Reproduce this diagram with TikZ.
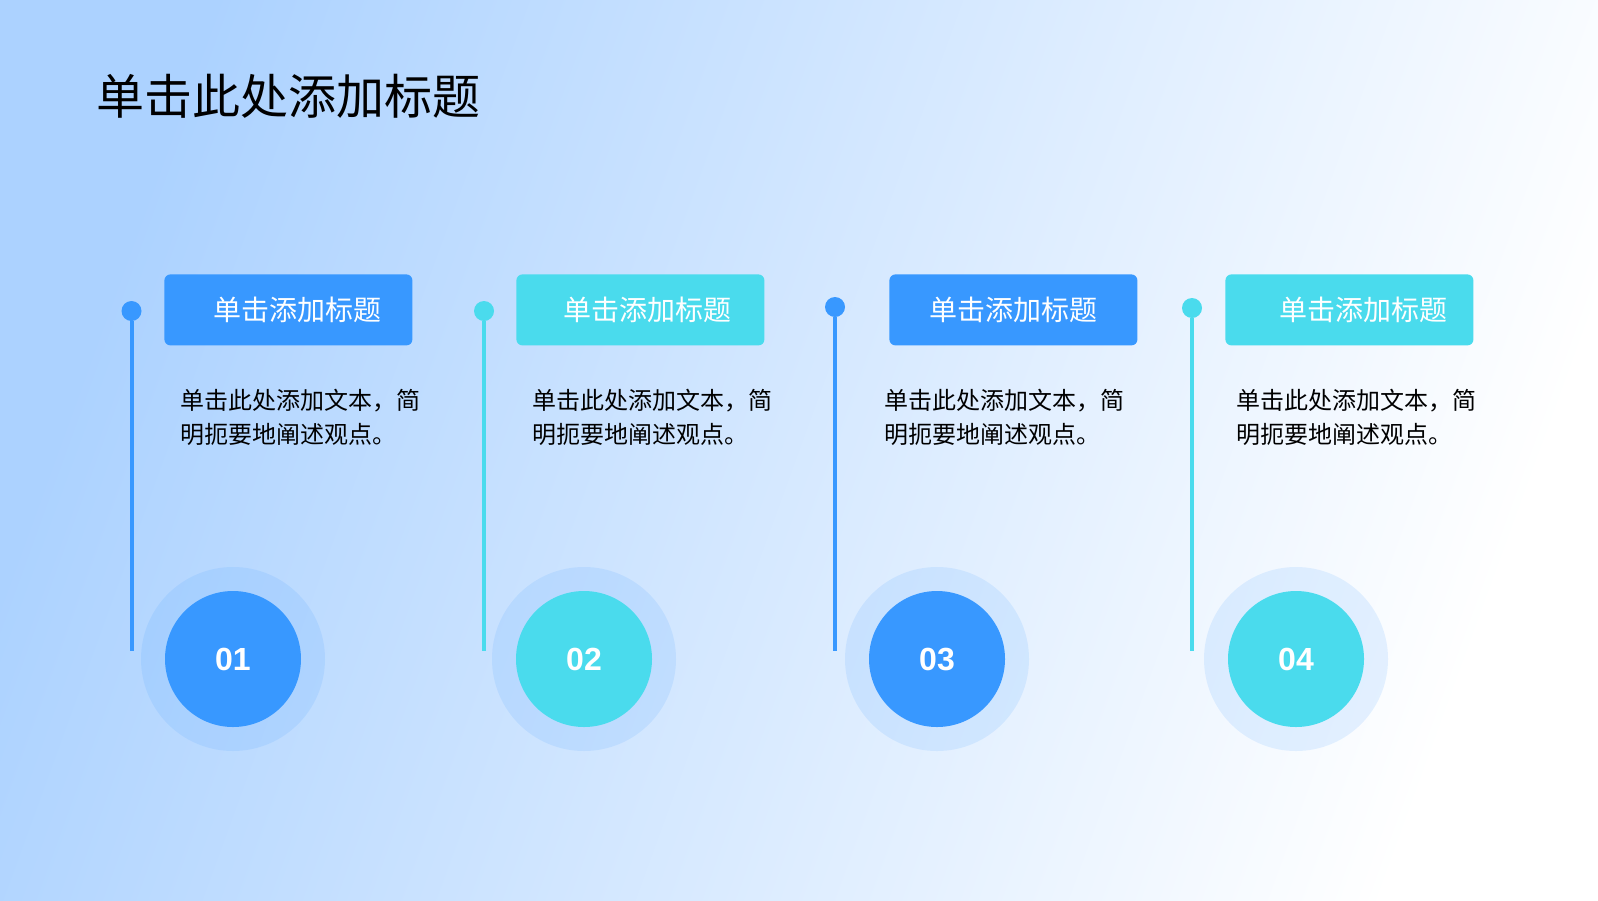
\documentclass[tikz,border=0pt]{standalone}
\usepackage{fontspec}
\usepackage{tikz}
\setmainfont{Noto Sans CJK SC}
\newfontfamily\zahlfont{Liberation Sans}
\definecolor{stepblue}{RGB}{56, 152, 255}
\definecolor{stepcyan}{RGB}{74, 219, 237}
\definecolor{bgtop}{RGB}{172, 210, 255}
\definecolor{bgbottom}{RGB}{255, 255, 255}

\begin{document}
\begin{tikzpicture}[x=0.5pt, y=-0.5pt]

	% --- HINTERGRUND ---
	\shade[left color=bgtop, right color=bgbottom, shading angle=70] (0,0) rectangle (1598,900);
	\useasboundingbox (0,0) rectangle (1598,900);

	% --- TITEL ---
	\node[anchor=west, inner sep=0pt, font=\fontsize{24}{28}\selectfont, color=black] (titel) at (96,96) {单击此处添加标题};

	% --- HILFSFUNKTION FÜR SCHRITTE ---
	\newcommand{\schritt}[9]{ % #1:Name, #2:x Punkt, #3:y Punkt, #4:x Kasten, #5:x Text, #6:x Kreis, #7:Versatz, #8:Nr, #9:Farbe
		\node[circle, fill=#9, inner sep=0pt, minimum size=10pt] (#1dot) at (#2, #3) {};
		\coordinate (#1end) at (#2, 651);
		\draw[#9, line width=2pt] (#1dot) -- (#1end);
		\node[fill=#9, rounded corners=3pt, minimum width=124pt, minimum height=35.5pt, anchor=north west, inner sep=0pt, text=white, font=\fontsize{14}{16}\selectfont] (#1box) at (#4, 274) {\hspace*{#7pt}单击添加标题};
		\node[anchor=north west, align=left, inner sep=0pt, font=\fontsize{12}{17}\selectfont, color=black] (#1txt) at (#5, 389) {单击此处添加文本，简\\明扼要地阐述观点。};
		\node[circle, fill=stepblue, fill opacity=0.12, minimum size=92pt, inner sep=0pt] (#1halo) at (#6, 659) {};
		\node[circle, fill=#9, minimum size=68pt, inner sep=0pt, text=white, font=\zahlfont\bfseries\fontsize{16}{18}\selectfont] (#1num) at (#6, 659) {#8};
	}

	% --- VIER SCHRITTE ---
	\schritt{a}{131.5}{311}{164}{180}{233}{9}{01}{stepblue}
	\schritt{b}{484}{311}{516}{532}{584}{7}{02}{stepcyan}
	\schritt{c}{835}{307}{889}{884}{937}{0}{03}{stepblue}
	\schritt{d}{1192}{308}{1225}{1236}{1296}{14}{04}{stepcyan}

\end{tikzpicture}
\end{document}
